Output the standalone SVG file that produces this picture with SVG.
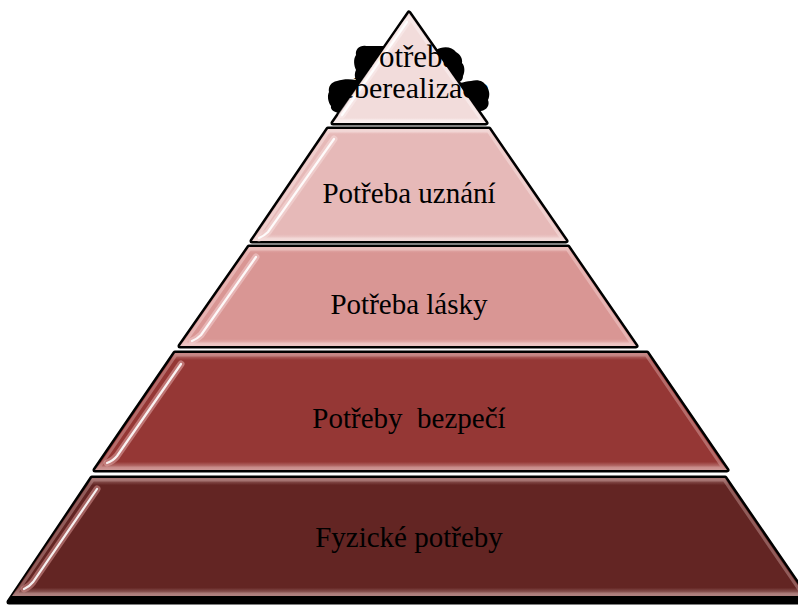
<svg xmlns="http://www.w3.org/2000/svg" width="798" height="605" viewBox="0 0 798 605">
<defs>
<linearGradient id="g1" x1="0" y1="0" x2="0" y2="1">
<stop offset="0" stop-color="#f2dcdb"/><stop offset="0.95" stop-color="#f2dcdb"/><stop offset="1" stop-color="#faeeee"/>
</linearGradient>
<linearGradient id="g2" x1="0" y1="0" x2="0" y2="1">
<stop offset="0" stop-color="#f1d4d3"/><stop offset="0.05" stop-color="#e6b9b8"/><stop offset="0.94" stop-color="#e6b9b8"/><stop offset="1" stop-color="#f3dbda"/>
</linearGradient>
<linearGradient id="g3" x1="0" y1="0" x2="0" y2="1">
<stop offset="0" stop-color="#e8b8b7"/><stop offset="0.06" stop-color="#d99694"/><stop offset="0.93" stop-color="#d99694"/><stop offset="1" stop-color="#eec6c5"/>
</linearGradient>
<linearGradient id="g4" x1="0" y1="0" x2="0" y2="1">
<stop offset="0" stop-color="#c68886"/><stop offset="0.06" stop-color="#953735"/><stop offset="0.93" stop-color="#953735"/><stop offset="1" stop-color="#d29d9b"/>
</linearGradient>
<linearGradient id="g5" x1="0" y1="0" x2="0" y2="1">
<stop offset="0" stop-color="#a67371"/><stop offset="0.06" stop-color="#632523"/><stop offset="0.93" stop-color="#632523"/><stop offset="1" stop-color="#b08482"/>
</linearGradient>
</defs>
<style>
.sh{fill:#000;stroke:#000;stroke-width:5;stroke-linejoin:round}
.gl{fill:none;stroke-width:3;stroke-linejoin:round;opacity:.55}
.hlw{fill:none;stroke-width:7;stroke-linecap:round;opacity:.55}
.hl{fill:none;stroke:#ffffff;stroke-width:2.2;stroke-linecap:round;opacity:.9}
.lbl{font-family:"Liberation Serif","Times New Roman",serif;font-size:29px;fill:#000;text-anchor:middle;white-space:pre}
.blob{fill:#000}
</style>
<rect width="798" height="605" fill="#fff"/>

<g id="tier5">
<polygon class="sh" points="92,478 725,478 810,602 9,602"/>
<polygon fill="url(#g5)" points="92,478 725,478 806,596 12,596"/>
<polygon class="gl" stroke="#b88a88" points="93,480 724,480 802,594 16,594"/>
<path class="hlw" stroke="#d99694" d="M97,489 L33,582 Q29,587 24,589"/>
<path class="hl" d="M97,489 L33,582 Q29,587 24,589"/>
<text class="lbl" x="409" y="547">Fyzické potřeby</text>
</g>

<g id="tier4">
<polygon class="sh" points="175,353 647,353 727,470 95,470"/>
<polygon fill="url(#g4)" points="175,353 647,353 727,470 95,470"/>
<polygon class="gl" stroke="#d09896" points="176,355 646,355 723,468 99,468"/>
<path class="hlw" stroke="#e0a8a6" d="M181,364 L117,456 Q113,461 107,463"/>
<path class="hl" d="M181,364 L117,456 Q113,461 107,463"/>
<text class="lbl" x="409" y="428">Potřeby  bezpečí</text>
</g>

<g id="tier3">
<polygon class="sh" points="249,247 568,247 636,346 180,346"/>
<polygon fill="url(#g3)" points="249,247 568,247 636,346 180,346"/>
<polygon class="gl" stroke="#f0cccb" points="250,249 567,249 632,344 184,344"/>
<path class="hlw" stroke="#f3d0cf" d="M256,257 L201,335 Q197,339 192,341"/>
<path class="hl" d="M256,257 L201,335 Q197,339 192,341"/>
<text class="lbl" x="409" y="314">Potřeba lásky</text>
</g>

<g id="tier2">
<polygon class="sh" points="328,129 489,129 566,241 252,241"/>
<polygon fill="url(#g2)" points="328,129 489,129 566,241 252,241"/>
<polygon class="gl" stroke="#f6e0df" points="329,131 488,131 562,239 256,239"/>
<path class="hlw" stroke="#f6dcdb" d="M334,139 L268,232 Q264,236 259,238"/>
<path class="hl" d="M334,139 L268,232 Q264,236 259,238"/>
<text class="lbl" x="409" y="203">Potřeba uznání</text>
</g>

<g id="tier1">
<path class="blob" d="M366,46 C360,45 355,49 356,55 C353,59 354,66 356,70 C354,74 355,78 356,80 C350,79 343,79 337,81 C331,82 328,87 329,92 C327,96 328,102 331,106 C330,110 335,113 341,113 L385,113 L396,46 Z"/>
<path class="blob" d="M436,50 C442,46 452,46 456,52 C460,54 463,59 462,63 C465,66 465,72 463,76 C463,81 459,83 457,82 C461,84 466,81 471,81 C478,79 484,81 486,86 C490,90 490,96 488,100 C490,105 487,110 481,111 L470,113 L428,113 L428,50 Z"/>
<polygon fill="none" stroke="#000" stroke-width="5" stroke-linejoin="round" points="409,13 486,123 333,123"/>
<polygon fill="url(#g1)" points="409,13 486,123 333,123"/>
<polygon class="gl" stroke="#fbf2f2" points="409,17 482,121 337,121"/>
<path class="hlw" stroke="#fbeeee" d="M407,22 L342,115"/>
<path class="hl" d="M407,22 L342,115"/>
<text class="lbl" x="409" y="67" style="font-size:31px">Potřeba</text>
<text class="lbl" x="409" y="98" style="font-size:30px">seberealizace</text>
</g>
</svg>
